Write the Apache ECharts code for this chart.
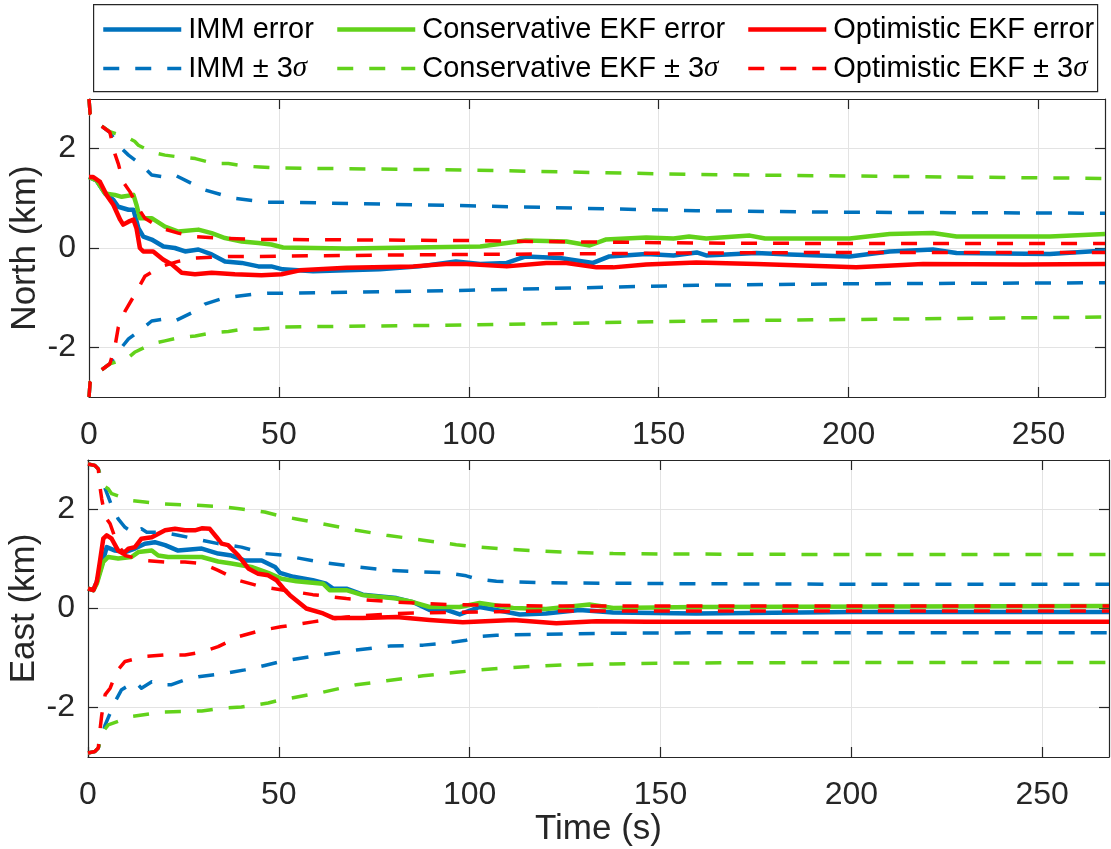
<!DOCTYPE html>
<html>
<head>
<meta charset="utf-8">
<script src="https://cdn.jsdelivr.net/npm/echarts@6/dist/echarts.min.js"></script>
<style>html,body{margin:0;padding:0;background:#fff;}#c{width:1111px;height:849px;}</style>
</head>
<body>
<div id="c"></div>
<script>
// ---------- tick labels ----------
const xTicks = [0, 50, 100, 150, 200, 250];
const yTicks = [-2, 0, 2];
const legendNames = ['IMM error', 'Conservative EKF error', 'Optimistic EKF error', 'IMM ± 3σ', 'Conservative EKF ± 3σ', 'Optimistic EKF ± 3σ'];

// ---------- North (top) ----------
const nImmErrT = [0, 2, 4.2, 6.4, 7.7, 10.4, 11.7, 13, 14.3, 16.5, 19.6, 22.6, 25.3, 28.8, 32.3, 35.8, 40.2, 44.6, 48, 51, 59, 76.6, 87, 96.6, 103, 110, 115, 124, 132.7, 137, 146.7, 153.9, 160, 162.5, 175.7, 184.5, 200.3, 210.8, 222.2, 228.4, 253, 267.5];
const nImmErrV = [1.43, 1.36, 1.1, 0.97, 0.83, 0.77, 0.77, 0.4, 0.23, 0.17, 0.03, 0, -0.07, -0.03, -0.13, -0.27, -0.3, -0.37, -0.37, -0.43, -0.47, -0.43, -0.37, -0.27, -0.32, -0.3, -0.17, -0.2, -0.3, -0.17, -0.12, -0.15, -0.09, -0.15, -0.1, -0.13, -0.17, -0.07, -0.03, -0.1, -0.12, -0.05];
const nConErrT = [0, 2, 4.2, 6.8, 8.6, 11.7, 12.5, 13.4, 16.5, 20, 23.5, 28.8, 32.3, 35.8, 40.2, 44.6, 48, 51.1, 67.8, 85.4, 103, 115, 125.7, 131.8, 136, 146.7, 153.9, 158, 162.5, 174, 178, 200.3, 210.8, 222.2, 228.4, 253, 267.5];
const nConErrV = [1.43, 1.36, 1.1, 1.07, 1.03, 1.07, 0.87, 0.6, 0.6, 0.43, 0.33, 0.37, 0.3, 0.2, 0.13, 0.1, 0.07, 0.01, -0.01, 0.01, 0.03, 0.15, 0.13, 0.05, 0.17, 0.21, 0.19, 0.23, 0.19, 0.25, 0.19, 0.19, 0.28, 0.3, 0.23, 0.23, 0.28];
const nOptErrT = [0, 1.1, 2.9, 4.6, 6.4, 8.2, 9, 10.4, 11.7, 12.5, 13.4, 14.3, 16.9, 19.5, 21.8, 24.4, 27.9, 32.3, 38.4, 45.4, 50.7, 55.5, 67.8, 85.4, 94, 99.4, 110, 120.4, 125.7, 133.6, 138, 146.7, 159.9, 175.7, 202, 219.6, 246, 267.5];
const nOptErrV = [1.43, 1.43, 1.33, 1.07, 0.87, 0.57, 0.47, 0.53, 0.57, 0.4, 0.0, -0.07, -0.07, -0.23, -0.33, -0.5, -0.53, -0.5, -0.53, -0.55, -0.53, -0.45, -0.4, -0.37, -0.32, -0.32, -0.37, -0.3, -0.3, -0.39, -0.39, -0.33, -0.29, -0.32, -0.39, -0.32, -0.33, -0.32];

const nImmUpT = [0, 0.3, 2.5, 5.5, 7.7, 10.4, 13.9, 16.5, 20, 22.6, 27, 30.5, 35, 38.4, 43.7, 47, 52, 100, 130, 160, 200, 267.5];
const nImmUpV = [3.0, 2.7, 2.5, 2.33, 2.07, 1.87, 1.67, 1.47, 1.43, 1.47, 1.3, 1.17, 1.07, 1.0, 0.95, 0.92, 0.92, 0.85, 0.8, 0.75, 0.72, 0.7];
const nImmLoT = [0, 0.3, 2.5, 5.5, 8.6, 10.4, 13.9, 16.5, 20, 22.6, 28, 30.5, 35.8, 39, 44.6, 47, 52, 100, 130, 160, 200, 267.5];
const nImmLoV = [-3.0, -2.7, -2.5, -2.33, -2.0, -1.83, -1.63, -1.47, -1.43, -1.47, -1.27, -1.13, -1.0, -0.97, -0.92, -0.91, -0.91, -0.85, -0.8, -0.75, -0.72, -0.7];
const nConUpT = [0, 0.3, 2.5, 5.5, 8, 10, 12, 13, 16.5, 20, 24, 28, 33, 36.7, 41, 45, 50, 100, 160, 200, 267.5];
const nConUpV = [3.0, 2.7, 2.5, 2.34, 2.28, 2.23, 2.15, 2.07, 1.93, 1.87, 1.83, 1.8, 1.7, 1.7, 1.65, 1.63, 1.61, 1.57, 1.48, 1.45, 1.4];
const nConLoT = [0, 0.3, 2.5, 5.5, 10, 12, 16.5, 20, 24, 28, 33, 36.7, 41, 45, 51, 100, 160, 200, 267.5];
const nConLoV = [-3.0, -2.7, -2.5, -2.33, -2.23, -2.1, -1.93, -1.87, -1.8, -1.77, -1.7, -1.68, -1.63, -1.63, -1.59, -1.55, -1.47, -1.44, -1.39];
const nOptUpT = [0, 0.3, 2.5, 5.5, 6.8, 7.7, 9, 10.8, 13, 14.7, 19, 23.5, 28, 36.7, 45, 52, 100, 120, 160, 200, 267.5];
const nOptUpV = [3.0, 2.7, 2.5, 2.33, 1.9, 1.7, 1.33, 1.13, 0.8, 0.6, 0.4, 0.3, 0.23, 0.19, 0.17, 0.17, 0.15, 0.13, 0.1, 0.09, 0.09];
const nOptLoT = [0, 0.3, 2.5, 5.5, 6.8, 7.7, 9.5, 12.1, 14.7, 19.1, 23.5, 28, 36.7, 45, 52, 100, 120, 160, 200, 267.5];
const nOptLoV = [-3.0, -2.7, -2.5, -2.33, -2.0, -1.6, -1.27, -0.93, -0.57, -0.37, -0.27, -0.2, -0.17, -0.17, -0.16, -0.13, -0.12, -0.1, -0.09, -0.09];

// ---------- East (bottom) ----------
const eImmErrT = [0, 1.4, 2.3, 3.6, 4.9, 7.1, 9.7, 12.3, 14.9, 17.5, 20.2, 23.6, 29.8, 34.1, 37.6, 41.1, 45.5, 49, 50.3, 53.8, 58.9, 62.4, 64.2, 67.7, 72, 80.8, 85.1, 89.5, 93.9, 97.4, 102.6, 107, 113.1, 120, 128.8, 137.6, 159.4, 200, 267.5];
const eImmErrV = [0.4, 0.37, 0.54, 0.87, 1.24, 1.17, 1.14, 1.21, 1.31, 1.34, 1.28, 1.17, 1.21, 1.11, 1.07, 0.97, 0.97, 0.84, 0.72, 0.64, 0.57, 0.5, 0.4, 0.4, 0.28, 0.21, 0.13, -0.03, -0.03, -0.12, 0.03, -0.03, -0.12, -0.1, -0.03, -0.08, -0.1, -0.07, -0.07];
const eConErrT = [0, 1.4, 2.3, 4, 5.3, 7.9, 11.4, 13.2, 16.7, 18.4, 21, 29.8, 34.1, 37.6, 42.8, 47.2, 50.7, 54.6, 61.6, 63.3, 67.7, 72, 80.8, 85.1, 89.5, 97.4, 102.6, 111.4, 120, 131.4, 137.6, 159.4, 267.5];
const eConErrV = [0.4, 0.37, 0.5, 0.94, 1.04, 1.01, 1.04, 1.14, 1.17, 1.07, 1.04, 1.04, 0.95, 0.91, 0.84, 0.72, 0.6, 0.55, 0.5, 0.37, 0.37, 0.27, 0.2, 0.13, 0.03, 0.03, 0.11, 0.01, -0.01, 0.08, 0.01, 0.03, 0.05];
const eOptErrT = [0, 1.4, 2.3, 3.1, 4, 4.9, 6.2, 7.9, 9.2, 10.6, 12.3, 14, 16.7, 20.2, 22.8, 25.4, 28, 29.8, 31.9, 33.7, 35, 36.7, 39.4, 42, 44.6, 47.2, 49.4, 51.6, 52.9, 57.2, 61.6, 64.2, 72, 80.8, 89.5, 98.2, 111.4, 122.7, 133.2, 146.3, 159.4, 200, 267.5];
const eOptErrV = [0.4, 0.37, 0.54, 0.94, 1.41, 1.48, 1.41, 1.17, 1.11, 1.21, 1.24, 1.41, 1.44, 1.58, 1.61, 1.58, 1.58, 1.62, 1.61, 1.44, 1.31, 1.28, 1.07, 0.81, 0.7, 0.67, 0.57, 0.37, 0.27, 0.0, -0.1, -0.19, -0.19, -0.17, -0.23, -0.28, -0.23, -0.3, -0.26, -0.27, -0.27, -0.27, -0.27];

const eImmUpT = [0, 1.8, 2.7, 4.5, 6.2, 7.9, 9.7, 12.3, 14, 15.4, 19.3, 23.6, 28, 34.1, 40.2, 46.3, 50.7, 60.7, 70.3, 79, 87.8, 93.9, 99.1, 101.7, 107, 120, 137.6, 159.4, 200, 267.5];
const eImmUpV = [2.92, 2.89, 2.82, 2.42, 2.08, 1.81, 1.64, 1.51, 1.61, 1.54, 1.54, 1.48, 1.41, 1.31, 1.24, 1.11, 1.08, 0.94, 0.84, 0.77, 0.74, 0.72, 0.66, 0.6, 0.55, 0.52, 0.51, 0.5, 0.49, 0.49];
const eImmLoT = [0, 1.8, 2.7, 4.5, 7.1, 8.8, 12.3, 14, 16.7, 19.3, 21.9, 25.4, 28.9, 35.9, 41.1, 46.3, 50.7, 60.7, 70.3, 79, 87.8, 93.9, 99.1, 101.7, 107, 120, 137.6, 159.4, 200, 267.5];
const eImmLoV = [-2.92, -2.89, -2.82, -2.35, -1.88, -1.64, -1.48, -1.61, -1.48, -1.54, -1.54, -1.44, -1.38, -1.31, -1.24, -1.15, -1.07, -0.94, -0.84, -0.76, -0.74, -0.7, -0.64, -0.57, -0.54, -0.52, -0.5, -0.49, -0.49, -0.49];
const eConUpT = [0, 1.8, 2.7, 4, 5.3, 6.2, 11.4, 14.9, 20, 29.8, 35.9, 40.2, 46.3, 50.3, 54.6, 61.6, 70.3, 78.2, 87.8, 96.5, 102.6, 111.4, 124.5, 137.6, 155, 200, 267.5];
const eConUpV = [2.92, 2.89, 2.82, 2.48, 2.42, 2.32, 2.18, 2.15, 2.11, 2.08, 2.05, 2.01, 1.95, 1.87, 1.81, 1.71, 1.58, 1.48, 1.38, 1.29, 1.24, 1.19, 1.14, 1.11, 1.1, 1.09, 1.09];
const eConLoT = [0, 1.8, 2.7, 4, 5.3, 11.4, 20, 29.8, 35.9, 40.2, 47.2, 50.3, 61.6, 70.3, 78.2, 87.8, 96.5, 102.6, 111.4, 124.5, 137.6, 155, 200, 267.5];
const eConLoV = [-2.92, -2.89, -2.82, -2.48, -2.35, -2.18, -2.09, -2.07, -2.01, -1.99, -1.91, -1.85, -1.69, -1.54, -1.46, -1.36, -1.29, -1.24, -1.19, -1.14, -1.12, -1.1, -1.09, -1.09];
const eOptUpT = [0, 1.8, 2.7, 3.1, 3.6, 4.5, 5.8, 7.5, 9.7, 14.9, 20, 25.4, 29.8, 34.1, 39.4, 45.5, 50.5, 58.9, 67.7, 80.8, 93.9, 120, 267.5];
const eOptUpV = [2.92, 2.89, 2.82, 2.48, 2.21, 1.85, 1.71, 1.34, 1.07, 0.97, 0.94, 0.94, 0.91, 0.77, 0.57, 0.44, 0.38, 0.28, 0.2, 0.13, 0.08, 0.05, 0.05];
const eOptLoT = [0, 1.8, 2.7, 3.1, 3.6, 4.5, 5.8, 7.5, 9.7, 14.9, 20, 25.4, 29.8, 34.1, 39.4, 45.5, 50.5, 58.9, 67.7, 80.8, 93.9, 120, 267.5];
const eOptLoV = [-2.92, -2.89, -2.82, -2.48, -2.15, -1.74, -1.61, -1.27, -1.07, -0.97, -0.94, -0.94, -0.88, -0.77, -0.57, -0.44, -0.37, -0.27, -0.17, -0.1, -0.08, -0.05, -0.05];

// ---------- styling ----------
const BLUE = '#0072BD', GREEN = '#62D21A', RED = '#FF0000';
const FONT = 'Liberation Sans, Arial, Helvetica, sans-serif';
const AX = '#262626';
const XMAX = 267.5;
const SOLID_W = 4.5, DASH_W = 3.5, DASH = [16, 16];

function pairs(t, v) { return t.map((x, i) => [x, v[i]]); }

function solid(name, color, t, v, g) {
  return { name, type: 'line', xAxisIndex: g * 2, yAxisIndex: g * 2, data: pairs(t, v),
    symbol: 'none', showSymbol: false, clip: true, silent: true,
    itemStyle: { color },
    lineStyle: { color, width: SOLID_W, cap: 'butt', join: 'round' } };
}
function dashed(name, color, t, v, g) {
  return { name, type: 'line', xAxisIndex: g * 2, yAxisIndex: g * 2, data: pairs(t, v),
    symbol: 'none', showSymbol: false, clip: true, silent: true,
    itemStyle: { color },
    lineStyle: { color, width: DASH_W, type: DASH, cap: 'butt', join: 'round' } };
}

const series = [
  solid(legendNames[0], BLUE, nImmErrT, nImmErrV, 0),
  solid(legendNames[1], GREEN, nConErrT, nConErrV, 0),
  solid(legendNames[2], RED, nOptErrT, nOptErrV, 0),
  dashed(legendNames[3], BLUE, nImmUpT, nImmUpV, 0),
  dashed(legendNames[3], BLUE, nImmLoT, nImmLoV, 0),
  dashed(legendNames[4], GREEN, nConUpT, nConUpV, 0),
  dashed(legendNames[4], GREEN, nConLoT, nConLoV, 0),
  dashed(legendNames[5], RED, nOptUpT, nOptUpV, 0),
  dashed(legendNames[5], RED, nOptLoT, nOptLoV, 0),
  solid(legendNames[0], BLUE, eImmErrT, eImmErrV, 1),
  solid(legendNames[1], GREEN, eConErrT, eConErrV, 1),
  solid(legendNames[2], RED, eOptErrT, eOptErrV, 1),
  dashed(legendNames[3], BLUE, eImmUpT, eImmUpV, 1),
  dashed(legendNames[3], BLUE, eImmLoT, eImmLoV, 1),
  dashed(legendNames[4], GREEN, eConUpT, eConUpV, 1),
  dashed(legendNames[4], GREEN, eConLoT, eConLoV, 1),
  dashed(legendNames[5], RED, eOptUpT, eOptUpV, 1),
  dashed(legendNames[5], RED, eOptLoT, eOptLoV, 1)
];

function xAx(grid, pos, main, name) {
  return { type: 'value', gridIndex: grid, position: pos, min: 0, max: XMAX, interval: 50,
    name: name || '', nameLocation: 'middle', nameGap: 53,
    nameTextStyle: { fontFamily: FONT, fontSize: 35, color: AX },
    axisLine: { show: true, onZero: false, lineStyle: { color: AX, width: 1.2 } },
    axisTick: { show: true, inside: true, length: 10, customValues: xTicks, lineStyle: { color: AX, width: 1.2 } },
    axisLabel: { show: main, customValues: xTicks, fontFamily: FONT, fontSize: 32, color: AX, margin: 22 },
    splitLine: { show: main, lineStyle: { color: '#e3e3e3', width: 1 } } };
}
function yAx(grid, pos, main, name) {
  return { type: 'value', gridIndex: grid, position: pos, min: -3, max: 3, interval: 1,
    name: name || '', nameLocation: 'middle', nameGap: 46, nameMoveOverlap: false,
    nameTextStyle: { fontFamily: FONT, fontSize: 35, color: AX },
    axisLine: { show: true, onZero: false, lineStyle: { color: AX, width: 1.2 } },
    axisTick: { show: true, inside: true, length: 10, customValues: yTicks, lineStyle: { color: AX, width: 1.2 } },
    axisLabel: { show: main, customValues: yTicks, fontFamily: FONT, fontSize: 32, color: AX, margin: 13 },
    splitLine: { show: main, lineStyle: { color: '#e3e3e3', width: 1 } } };
}

function legendItem(idx, dashedItem) {
  return { name: legendNames[idx],
    itemStyle: { opacity: 0, borderWidth: 0 },
    lineStyle: dashedItem ? { width: DASH_W, type: DASH, cap: 'butt' } : { width: SOLID_W, type: 'solid', cap: 'butt' } };
}

const legendCommon = {
  orient: 'vertical', itemWidth: 78, itemHeight: 14, itemGap: 6, padding: 0,
  selectedMode: false,
  itemStyle: { opacity: 0, borderWidth: 0 },
  formatter: n => n.replace('σ', '{i|σ}'),
  textStyle: { fontFamily: FONT, fontSize: 29, color: '#000', lineHeight: 33, padding: [0, 0, 0, 2],
    rich: { i: { fontFamily: 'Liberation Serif, DejaVu Serif, serif', fontStyle: 'italic', fontSize: 29, color: '#000', lineHeight: 33 } } }
};

const option = {
  animation: false,
  backgroundColor: '#fff',
  grid: [
    { left: 89, top: 99, width: 1016, height: 298, outerBoundsMode: 'none', containLabel: false },
    { left: 88, top: 460, width: 1021, height: 297, outerBoundsMode: 'none', containLabel: false }
  ],
  xAxis: [xAx(0, 'bottom', true), xAx(0, 'top', false), xAx(1, 'bottom', true, 'Time (s)'), xAx(1, 'top', false)],
  yAxis: [yAx(0, 'left', true, 'North (km)'), yAx(0, 'right', false), yAx(1, 'left', true, 'East (km)'), yAx(1, 'right', false)],
  legend: [
    Object.assign({}, legendCommon, { left: 101, top: 13, data: [legendItem(0, false), legendItem(3, true)] }),
    Object.assign({}, legendCommon, { left: 335, top: 13, data: [legendItem(1, false), legendItem(4, true)] }),
    Object.assign({}, legendCommon, { left: 746, top: 13, data: [legendItem(2, false), legendItem(5, true)] })
  ],
  graphic: [{ type: 'rect', left: 93, top: 4, shape: { width: 1004, height: 87 },
    style: { fill: 'rgba(0,0,0,0)', stroke: AX, lineWidth: 1.2 }, silent: true }],
  series
};

const chart = echarts.init(document.getElementById('c'), null, { renderer: 'canvas' });
chart.setOption(option);
</script>
</body>
</html>
